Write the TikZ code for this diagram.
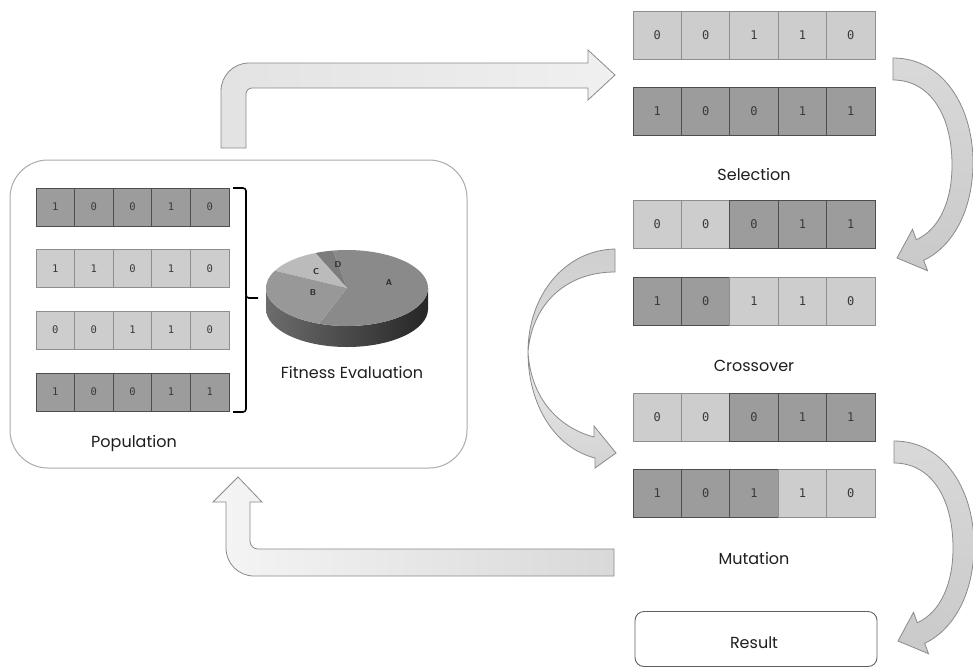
\documentclass[tikz,border=0pt]{standalone}
\usepackage{fontspec}
\setmainfont{Poppins}
\newfontfamily\digfont{DejaVu Sans Mono}
\definecolor{dcell}{HTML}{9C9C9C}
\definecolor{lcell}{HTML}{CDCDCD}
\definecolor{dline}{HTML}{4E4E4E}
\definecolor{lline}{HTML}{8E8E8E}
\definecolor{aline}{HTML}{8A8A8A}
\definecolor{txt}{HTML}{1E1E1E}
\definecolor{dtxt}{HTML}{3A3A3A}
\definecolor{pieA}{HTML}{8A8A8A}
\definecolor{pieB}{HTML}{989898}
\definecolor{pieC}{HTML}{BBBBBB}
\definecolor{pieD}{HTML}{7C7C7C}
\newcommand\chromrow[7]{%
  \foreach \v/\c [count=\i] in {#6} {
    \node[cell\c, minimum width=#4, minimum height=#5, font=\digfont\fontsize{#7}{#7}\selectfont] (#1-\i) at ({#2+(\i-0.5)*#4}, #3) {\v};
  }}
\begin{document}
\begin{tikzpicture}[x=1pt,y=-1pt,
  celld/.style={draw=dline, fill=dcell, line width=0.9, inner sep=0, outer sep=0, text=dtxt},
  celll/.style={draw=lline, fill=lcell, line width=0.9, inner sep=0, outer sep=0, text=dtxt},
  lab/.style={text=txt, font=\fontsize{16}{18}\selectfont, inner sep=0},
  flatarrow/.style={draw=aline, line width=0.8},
  carrow/.style={draw=aline, line width=0.8, top color=gray!30, bottom color=gray!42},
  pielab/.style={font=\sffamily\bfseries\fontsize{8.5}{9}\selectfont, text=black!85, inner sep=0}]
\useasboundingbox (0,0) rectangle (973,667);
\fill[white] (0,0) rectangle (973,667);

% population box
\node[draw=gray!65, line width=1, rounded corners=38, minimum width=457, minimum height=308, inner sep=0] (popbox) at (238.5,314) {};

% population rows
\chromrow{pa}{36}{207}{38.6}{38}{1/d,0/d,0/d,1/d,0/d}{10.5}
\chromrow{pb}{36}{268.5}{38.6}{38}{1/l,1/l,0/l,1/l,0/l}{10.5}
\chromrow{pc}{36}{330}{38.6}{38}{0/l,0/l,1/l,1/l,0/l}{10.5}
\chromrow{pd}{36}{392}{38.6}{38}{1/d,0/d,0/d,1/d,1/d}{10.5}

% bracket
\coordinate (brtop) at (233,188);
\coordinate (brbot) at (233,412);
\coordinate (brtip) at (258,298);
\draw[line width=1.6, rounded corners=3] (brtop) -| (246,298) -- (brtip);
\draw[line width=1.6, rounded corners=3] (246,296) |- (brbot);

\node[lab] (poplab) at (134,443) {Population};

% pie chart
\begin{scope}[shift={(347,288)}, y=1pt]
  \shade[left color=gray!85!black, right color=black!85] (-81,0) -- (-81,-21) arc[start angle=180, end angle=360, x radius=81, y radius=38] -- (81,0) arc[start angle=0, end angle=-180, x radius=81, y radius=38] -- cycle;
  \fill[pieA] (0,0) -- (-110:81 and 38) arc[start angle=-110, end angle=100, x radius=81, y radius=38] -- cycle;
  \fill[pieD] (0,0) -- (100:81 and 38) arc[start angle=100, end angle=113, x radius=81, y radius=38] -- cycle;
  \fill[pieC] (0,0) -- (113:81 and 38) arc[start angle=113, end angle=153, x radius=81, y radius=38] -- cycle;
  \fill[pieB] (0,0) -- (153:81 and 38) arc[start angle=153, end angle=250, x radius=81, y radius=38] -- cycle;
\end{scope}
\node[pielab] (pA) at (389,283) {A};
\node[pielab] (pB) at (313,293) {B};
\node[pielab] (pC) at (316,272) {C};
\node[pielab] (pD) at (338,265) {D};
\node[lab] (fitlab) at (352,372) {Fitness Evaluation};

% right column
\chromrow{sa}{633}{35.5}{48.4}{48}{0/l,0/l,1/l,1/l,0/l}{12}
\chromrow{sb}{633}{111.5}{48.4}{48}{1/d,0/d,0/d,1/d,1/d}{12}
\node[lab] (sellab) at (754,174) {Selection};
\chromrow{ca}{633}{224.5}{48.4}{48}{0/l,0/l,0/d,1/d,1/d}{12}
\chromrow{cb}{633}{301.5}{48.4}{48}{1/d,0/d,1/l,1/l,0/l}{12}
\node[lab] (croslab) at (754,366) {Crossover};
\chromrow{ma}{633}{417}{48.4}{48}{0/l,0/l,0/d,1/d,1/d}{12}
\chromrow{mb}{633}{493}{48.4}{48}{1/d,0/d,1/d,1/l,0/l}{12}
\node[lab] (mutlab) at (754,558) {Mutation};
\node[draw=gray!75!black, line width=0.9, rounded corners=9, minimum width=242, minimum height=55, inner sep=0] (resbox) at (756,639) {};
\node[lab] (reslab) at (754,643) {Result};

% top arrow: population -> selection
\path[flatarrow, left color=gray!22, right color=gray!12]
  (221,148) -- (221,91) .. controls (221,75.5) and (233.5,63) .. (249,63)
  -- (588,63) -- (588,50) -- (615,75) -- (588,100) -- (588,88)
  -- (252,88) .. controls (248.7,88) and (246,90.7) .. (246,94) -- (246,148) -- cycle;

% return arrow: mutation -> population
\path[flatarrow, left color=gray!8, right color=gray!30]
  (614,549) -- (258,549) .. controls (253.6,549) and (250,545.4) .. (250,541)
  -- (250,502) -- (262,502) -- (238,477) -- (213,502) -- (226,502)
  -- (226,548) .. controls (226,563.5) and (238.5,576) .. (254,576) -- (614,576) -- cycle;

% selection -> crossover
\path[carrow] (893,58) .. controls (945,58) and (974,110) .. (973,165)
  .. controls (972,215) and (950,248) .. (923.7,260.3) -- (927.5,270.7) -- (897,258)
  -- (912.5,229.3) -- (916.3,239.7) .. controls (940,229) and (952,200) .. (952,165)
  .. controls (952,115) and (930,80) .. (893,80) -- cycle;

% mutation -> result
\begin{scope}[shift={(1,383)}]
\path[carrow] (893,58) .. controls (945,58) and (974,110) .. (973,165)
  .. controls (972,215) and (950,248) .. (923.7,260.3) -- (927.5,270.7) -- (897,258)
  -- (912.5,229.3) -- (916.3,239.7) .. controls (940,229) and (952,200) .. (952,165)
  .. controls (952,115) and (930,80) .. (893,80) -- cycle;
\end{scope}

% crossover -> mutation (twisted ribbon)
\path[draw=aline, line width=0.8, top color=gray!38, bottom color=gray!28]
  (615,249) .. controls (565,250) and (528,295) .. (528,352)
  .. controls (532,305) and (565,272) .. (615,272) -- cycle;
\path[draw=aline, line width=0.8, top color=gray!15, bottom color=gray!35]
  (528,352) .. controls (528,405) and (555,448) .. (595,458) -- (595,468) -- (616,453)
  -- (594,426) -- (594,437) .. controls (560,428) and (531,400) .. (528,352) -- cycle;
\end{tikzpicture}
\end{document}
